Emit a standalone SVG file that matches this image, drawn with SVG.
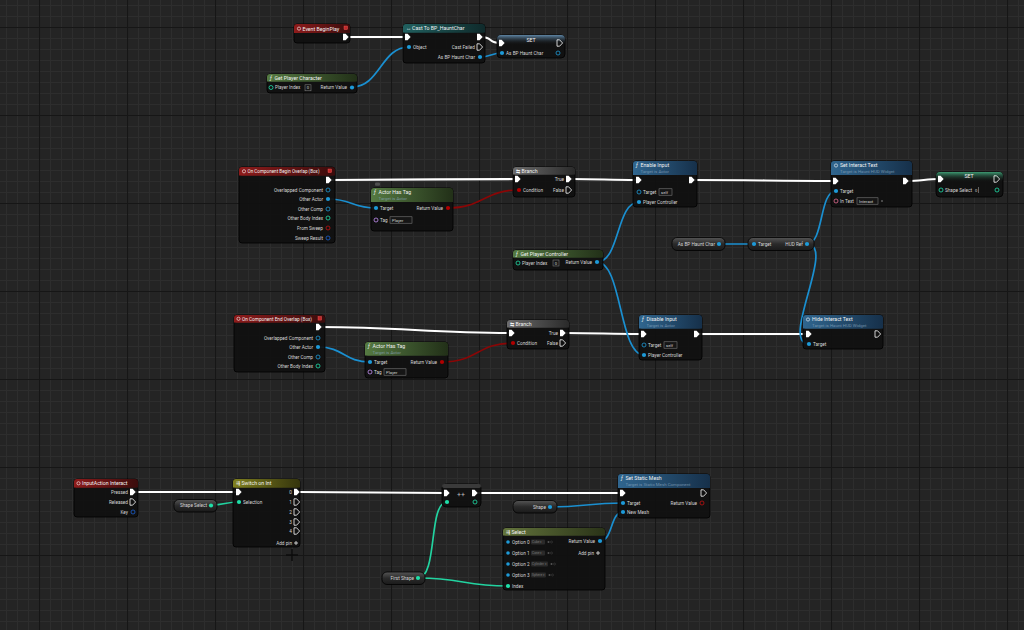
<svg xmlns="http://www.w3.org/2000/svg" width="1024" height="630" viewBox="0 0 1024 630">
<defs>
<pattern id="gMinor" width="11" height="11" patternUnits="userSpaceOnUse" x="303" y="555"><path d="M0.5 0V11M0 0.5H11" stroke="#2d2d2d" stroke-width="1" fill="none"/></pattern>
<pattern id="gMajor" width="88" height="88" patternUnits="userSpaceOnUse" x="303" y="555"><path d="M0.5 0V88M0 0.5H88" stroke="#161616" stroke-width="1.2" fill="none"/></pattern>
<linearGradient id="gRed" x1="0" y1="0" x2="1" y2="0"><stop offset="0" stop-color="#8e1b1b"/><stop offset="1" stop-color="#3a0c0c"/></linearGradient>
<linearGradient id="gTeal" x1="0" y1="0" x2="1" y2="0"><stop offset="0" stop-color="#21605f"/><stop offset="1" stop-color="#0f2a2b"/></linearGradient>
<linearGradient id="gBlue" x1="0" y1="0" x2="1" y2="0"><stop offset="0" stop-color="#30668f"/><stop offset="1" stop-color="#16304a"/></linearGradient>
<linearGradient id="gGreen" x1="0" y1="0" x2="1" y2="0"><stop offset="0" stop-color="#557a42"/><stop offset="1" stop-color="#223018"/></linearGradient>
<linearGradient id="gGrey" x1="0" y1="0" x2="1" y2="0"><stop offset="0" stop-color="#6c6c6c"/><stop offset="1" stop-color="#2a2a2a"/></linearGradient>
<linearGradient id="gOlive" x1="0" y1="0" x2="1" y2="0"><stop offset="0" stop-color="#80801f"/><stop offset="1" stop-color="#34340d"/></linearGradient>
<linearGradient id="gSel" x1="0" y1="0" x2="1" y2="0"><stop offset="0" stop-color="#63743c"/><stop offset="1" stop-color="#2a3318"/></linearGradient>
<linearGradient id="gSetB" x1="0" y1="0" x2="0" y2="1"><stop offset="0" stop-color="#5f86a6"/><stop offset="1" stop-color="#141414" stop-opacity="0"/></linearGradient>
<linearGradient id="gSetG" x1="0" y1="0" x2="0" y2="1"><stop offset="0" stop-color="#3d9a72"/><stop offset="1" stop-color="#141414" stop-opacity="0"/></linearGradient>
<linearGradient id="gVar" x1="0" y1="0" x2="0" y2="1"><stop offset="0" stop-color="#555"/><stop offset="0.5" stop-color="#2a2a2a"/><stop offset="1" stop-color="#1a1a1a"/></linearGradient>
<path id="ex" d="M-3,-3.2h2.6l3,3.2l-3,3.2h-2.6z" fill="#fff"/>
<path id="exo" d="M-3,-3.2h2.6l3,3.2l-3,3.2h-2.6z" fill="none" stroke="#fff" stroke-width="0.8"/>
</defs>
<style>
.body{fill:#101010;fill-opacity:.93;stroke:#000;stroke-width:.8}
.vb{fill:url(#gVar);stroke:#000;stroke-width:.8}
.tt{font-family:Roboto,"Liberation Sans",sans-serif;font-size:5.2px;fill:#f2f2f2}
.pl{font-family:Roboto,"Liberation Sans",sans-serif;font-size:4.7px;fill:#d6d6d6}
.sb{font-family:Roboto,"Liberation Sans",sans-serif;font-size:4.4px;fill:#8fa9c0;fill-opacity:.75}
.bx{font-family:Roboto,"Liberation Sans",sans-serif;font-size:4.2px;fill:#cfcfcf}
.r{text-anchor:end}.m{text-anchor:middle}
.box{fill:#161616;stroke:#8a8a8a;stroke-width:.5}
.po{fill:#1d9ad8}.poo{fill:none;stroke:#1d9ad8;stroke-width:.8}
.pb{fill:#b00000}.pbo{fill:none;stroke:#c01010;stroke-width:.8}
.pi{fill:#1fdfa8}.pio{fill:none;stroke:#1fdfa8;stroke-width:.8}
.pt{fill:none;stroke:#e46d92;stroke-width:.8}
.pn{fill:none;stroke:#c590f5;stroke-width:.8}
.ps{fill:none;stroke:#1a5fd0;stroke-width:.8}
.we{fill:none;stroke:#fff;stroke-width:2.2}
.wo{fill:none;stroke:#1a8fd0;stroke-width:1.7}
.wb{fill:none;stroke:#8a0606;stroke-width:1.7}
.wi{fill:none;stroke:#22d3a0;stroke-width:1.7}
</style>
<rect width="1024" height="630" fill="#242424"/>
<rect width="1024" height="630" fill="url(#gMinor)"/>
<rect width="1024" height="630" fill="url(#gMajor)"/>
<path d="M286 555H298M292 549V561" stroke="#0c0c0c" stroke-width="1.5"/>

<g id="connectors">
<path class="we" d="M350 37L405 37"/>
<path class="we" d="M481 37C493 37 488 43 500 43"/>
<path class="we" d="M330 180C400 180 450 179 516 179"/>
<path class="we" d="M570 179C600 179 608 180 637 180"/>
<path class="we" d="M693 180C760 180 770 181 834 181"/>
<path class="we" d="M907 181C920 181 927 179 939 179"/>
<path class="we" d="M320 327C400 327 430 333 510 333"/>
<path class="we" d="M564 333C600 333 607 334 642 334"/>
<path class="we" d="M698 334C750 334 757 334 807 334"/>
<path class="we" d="M134 492L237 492"/>
<path class="we" d="M298 492C370 492 375 493 445 493"/>
<path class="we" d="M476 493C550 493 548 493 621 493"/>
<path class="wo" d="M352 87C380 87 381 47 409 47"/>
<path class="wo" d="M480 57C491 57 491 53 502 53"/>
<path class="wo" d="M328 199C352 199 352 208 376 208"/>
<path class="wo" d="M597 262C620 262 616 202 639 202"/>
<path class="wo" d="M597 262C622 262 619 355 644 355"/>
<path class="wo" d="M719 244L754 244"/>
<path class="wo" d="M807 244C824 244 819 191 836 191"/>
<path class="wo" d="M807 244C837 244 779 344 809 344"/>
<path class="wo" d="M318 347C344 347 344 362 370 362"/>
<path class="wo" d="M550 507C586 507 587 503 623 503"/>
<path class="wo" d="M600 541C613 541 610 512 623 512"/>
<path class="wb" d="M448 208C483 208 484 190 519 190"/>
<path class="wb" d="M442 362C478 362 477 343 513 343"/>
<path class="wi" d="M211 505C225 505 225 502 239 502"/>
<path class="wi" d="M418 578C438 578 428 502 447 502"/>
<path class="wi" d="M418 578C463 578 463 586 508 586"/>
</g>

<g id="n-beginplay">
<rect class="body" x="294" y="24" width="56" height="19" rx="3"/>
<rect x="294" y="24" width="56" height="9" rx="3" fill="url(#gRed)"/><rect x="294" y="27" width="56" height="6" fill="url(#gRed)"/>
<circle cx="299" cy="28.6" r="1.6" fill="none" stroke="#fff" stroke-width=".6"/>
<text class="tt" x="302.5" y="30.5">Event BeginPlay</text>
<rect x="344" y="26" width="3.6" height="3.6" fill="#c02828" stroke="#f06060" stroke-width=".4"/>
<use href="#ex" x="346" y="37"/>
</g>

<g id="n-cast">
<rect class="body" x="403" y="24" width="82" height="39" rx="3"/>
<rect x="403" y="24" width="82" height="8.5" rx="3" fill="url(#gTeal)"/><rect x="403" y="27" width="82" height="5.5" fill="url(#gTeal)"/>
<text class="tt" x="406" y="30">↔</text>
<text class="tt" x="412" y="30">Cast To BP_HauntChar</text>
<use href="#ex" x="408" y="37"/><use href="#ex" x="480" y="37"/>
<circle class="po" cx="409" cy="47" r="2.1"/><text class="pl" x="413" y="48.7">Object</text>
<text class="pl r" x="475" y="48.7">Cast Failed</text><use href="#exo" x="480" y="47"/>
<text class="pl r" x="475" y="58.7">As BP Haunt Char</text><circle class="po" cx="480" cy="57" r="2.1"/>
</g>

<g id="n-set-char">
<rect class="body" x="497" y="35" width="68" height="23" rx="4"/>
<rect x="497" y="35" width="68" height="10" rx="4" fill="url(#gSetB)"/>
<text class="tt m" x="531" y="41.5">SET</text>
<use href="#ex" x="502" y="43"/><use href="#exo" x="560" y="43"/>
<circle class="po" cx="502" cy="53" r="2.1"/><text class="pl" x="506" y="54.7">As BP Haunt Char</text>
<circle class="poo" cx="558" cy="53" r="2"/>
</g>

<g id="n-getplayerchar">
<rect class="body" x="267" y="74" width="90" height="19" rx="3"/>
<rect x="267" y="74" width="90" height="7.5" rx="3" fill="url(#gGreen)"/><rect x="267" y="77" width="90" height="4.5" fill="url(#gGreen)"/>
<text class="tt" x="270" y="79.8" font-style="italic">ƒ</text>
<text class="tt" x="274.5" y="79.8">Get Player Character</text>
<circle class="pio" cx="271" cy="87.5" r="2"/><text class="pl" x="275" y="89.2">Player Index</text>
<rect class="box" x="305" y="84.8" width="6" height="6"/><text class="bx m" x="308" y="89.3">0</text>
<text class="pl r" x="347" y="89.2">Return Value</text><circle class="po" cx="352" cy="87.5" r="2.1"/>
</g>

<g id="n-beginoverlap">
<rect class="body" x="239" y="167" width="96" height="76" rx="3"/>
<rect x="239" y="167" width="96" height="8.5" rx="3" fill="url(#gRed)"/><rect x="239" y="170" width="96" height="5.5" fill="url(#gRed)"/>
<circle cx="244" cy="171.3" r="1.6" fill="none" stroke="#fff" stroke-width=".6"/>
<text class="tt" x="247.5" y="173.2" textLength="72" lengthAdjust="spacingAndGlyphs">On Component Begin Overlap (Box)</text>
<rect x="328" y="169" width="3.6" height="3.6" fill="#c02828" stroke="#f06060" stroke-width=".4"/>
<use href="#ex" x="329" y="180"/>
<text class="pl r" x="323" y="191.7">Overlapped Component</text><circle class="poo" cx="328" cy="190" r="2"/>
<text class="pl r" x="323" y="200.7">Other Actor</text><circle class="po" cx="328" cy="199" r="2.1"/>
<text class="pl r" x="323" y="210.7">Other Comp</text><circle class="poo" cx="328" cy="209" r="2"/>
<text class="pl r" x="323" y="219.7">Other Body Index</text><circle class="pio" cx="328" cy="218" r="2"/>
<text class="pl r" x="323" y="229.7">From Sweep</text><circle class="pbo" cx="328" cy="228" r="2"/>
<text class="pl r" x="323" y="239.7">Sweep Result</text><circle class="ps" cx="328" cy="238" r="2"/>
</g>

<g id="n-hastag1">
<rect x="375" y="182.5" width="5" height="3.2" rx="1" fill="#505050"/>
<rect class="body" x="371" y="188" width="82" height="43" rx="3"/>
<rect x="371" y="188" width="82" height="14" rx="3" fill="url(#gGreen)"/><rect x="371" y="191" width="82" height="11" fill="url(#gGreen)"/>
<text class="tt" x="374" y="194.3" font-style="italic">ƒ</text>
<text class="tt" x="378.5" y="194.3">Actor Has Tag</text>
<text class="sb" x="378.5" y="200.3">Target is Actor</text>
<circle class="po" cx="376" cy="208" r="2.1"/><text class="pl" x="380" y="209.7">Target</text>
<text class="pl r" x="443" y="209.7">Return Value</text><circle class="pb" cx="448" cy="208" r="2.1"/>
<circle class="pn" cx="376" cy="220" r="2"/><text class="pl" x="380" y="221.7">Tag</text>
<rect class="box" x="390" y="216.8" width="22" height="6.4"/><text class="bx" x="392" y="221.5">Player</text>
</g>

<g id="n-branch1">
<rect class="body" x="513" y="167" width="62" height="30" rx="3"/>
<rect x="513" y="167" width="62" height="7.5" rx="3" fill="url(#gGrey)"/><rect x="513" y="170" width="62" height="4.5" fill="url(#gGrey)"/>
<text class="tt" x="516" y="172.8">⇆</text>
<text class="tt" x="521.5" y="172.8">Branch</text>
<use href="#ex" x="518" y="179"/>
<text class="pl r" x="564" y="180.7">True</text><use href="#ex" x="569" y="179"/>
<circle class="pb" cx="519" cy="190" r="2.1"/><text class="pl" x="523" y="191.7">Condition</text>
<text class="pl r" x="564" y="191.7">False</text><use href="#exo" x="569" y="190"/>
</g>

<g id="n-enableinput">
<rect class="body" x="633" y="161" width="64" height="46" rx="3"/>
<rect x="633" y="161" width="64" height="14" rx="3" fill="url(#gBlue)"/><rect x="633" y="164" width="64" height="11" fill="url(#gBlue)"/>
<text class="tt" x="636" y="167.3" font-style="italic">ƒ</text>
<text class="tt" x="640.5" y="167.3">Enable Input</text>
<text class="sb" x="640.5" y="173.3">Target is Actor</text>
<use href="#ex" x="639" y="180"/><use href="#ex" x="692" y="180"/>
<circle class="poo" cx="639" cy="192" r="2"/><text class="pl" x="643" y="193.7">Target</text>
<rect class="box" x="659" y="188.8" width="13" height="6.4"/><text class="bx" x="661" y="193.5">self</text>
<circle class="po" cx="639" cy="202" r="2.1"/><text class="pl" x="643" y="203.7">Player Controller</text>
</g>

<g id="n-getplayerctrl">
<rect class="body" x="513" y="250" width="90" height="20" rx="3"/>
<rect x="513" y="250" width="90" height="7.5" rx="3" fill="url(#gGreen)"/><rect x="513" y="253" width="90" height="4.5" fill="url(#gGreen)"/>
<text class="tt" x="516" y="255.8" font-style="italic">ƒ</text>
<text class="tt" x="520.5" y="255.8">Get Player Controller</text>
<circle class="pio" cx="518" cy="263" r="2"/><text class="pl" x="522" y="264.7">Player Index</text>
<rect class="box" x="553" y="260" width="6" height="6"/><text class="bx m" x="556" y="264.5">0</text>
<text class="pl r" x="592" y="264">Return Value</text><circle class="po" cx="597" cy="262" r="2.1"/>
</g>

<g id="n-var-hauntchar">
<rect class="vb" x="672" y="237.5" width="53" height="13" rx="5"/>
<text class="pl r" x="715" y="245.8">As BP Haunt Char</text><circle class="po" cx="719" cy="244" r="2.1"/>
</g>

<g id="n-hudref">
<rect class="vb" x="748" y="237.5" width="66" height="13" rx="5"/>
<circle class="po" cx="754" cy="244" r="2.1"/><text class="pl" x="758" y="245.8">Target</text>
<text class="pl r" x="803" y="245.8">HUD Ref</text><circle class="po" cx="807" cy="244" r="2.1"/>
</g>

<g id="n-setinteracttext">
<rect class="body" x="831" y="161" width="81" height="46" rx="3"/>
<rect x="831" y="161" width="81" height="14" rx="3" fill="url(#gBlue)"/><rect x="831" y="164" width="81" height="11" fill="url(#gBlue)"/>
<circle cx="836" cy="165.5" r="1.6" fill="none" stroke="#fff" stroke-width=".6"/>
<text class="tt" x="840" y="167.3">Set Interact Text</text>
<text class="sb" x="840" y="173.3">Target is Haunt HUD Widget</text>
<use href="#ex" x="836" y="181"/><use href="#ex" x="906" y="181"/>
<circle class="po" cx="836" cy="191" r="2.1"/><text class="pl" x="840" y="192.7">Target</text>
<circle class="pt" cx="836" cy="201" r="2"/><text class="pl" x="840" y="202.7">In Text</text>
<rect class="box" x="857" y="197.8" width="21" height="6.4"/><text class="bx" x="859" y="202.5">Interact</text>
<path d="M881 201h2" stroke="#ccc" stroke-width=".6"/>
</g>

<g id="n-set-shape">
<rect class="body" x="936" y="172" width="67" height="25" rx="4"/>
<rect x="936" y="172" width="67" height="10" rx="4" fill="url(#gSetG)"/>
<text class="tt m" x="969" y="178">SET</text>
<use href="#ex" x="941" y="179"/><use href="#exo" x="997" y="179"/>
<circle class="pio" cx="941" cy="190" r="2"/><text class="pl" x="945" y="191.7">Shape Select</text>
<text class="bx" x="975" y="191.6">0</text><path d="M978.5 187v6" stroke="#ddd" stroke-width=".4"/>
<circle class="pio" cx="997" cy="190" r="2"/>
</g>

<g id="n-endoverlap">
<rect class="body" x="234" y="315" width="91" height="57" rx="3"/>
<rect x="234" y="315" width="91" height="7.5" rx="3" fill="url(#gRed)"/><rect x="234" y="318" width="91" height="4.5" fill="url(#gRed)"/>
<circle cx="238.5" cy="318.8" r="1.6" fill="none" stroke="#fff" stroke-width=".6"/>
<text class="tt" x="242" y="320.7" textLength="70" lengthAdjust="spacingAndGlyphs">On Component End Overlap (Box)</text>
<rect x="318" y="316.5" width="3.6" height="3.6" fill="#c02828" stroke="#f06060" stroke-width=".4"/>
<use href="#ex" x="319" y="327"/>
<text class="pl r" x="313" y="339.7">Overlapped Component</text><circle class="poo" cx="318" cy="338" r="2"/>
<text class="pl r" x="313" y="348.7">Other Actor</text><circle class="po" cx="318" cy="347" r="2.1"/>
<text class="pl r" x="313" y="358.7">Other Comp</text><circle class="poo" cx="318" cy="357" r="2"/>
<text class="pl r" x="313" y="367.7">Other Body Index</text><circle class="pio" cx="318" cy="366" r="2"/>
</g>

<g id="n-hastag2">
<rect class="body" x="365" y="342" width="83" height="36" rx="3"/>
<rect x="365" y="342" width="83" height="13.5" rx="3" fill="url(#gGreen)"/><rect x="365" y="345" width="83" height="10.5" fill="url(#gGreen)"/>
<text class="tt" x="368" y="348.3" font-style="italic">ƒ</text>
<text class="tt" x="372.5" y="348.3">Actor Has Tag</text>
<text class="sb" x="372.5" y="354">Target is Actor</text>
<circle class="po" cx="370" cy="362" r="2.1"/><text class="pl" x="374" y="363.7">Target</text>
<text class="pl r" x="437" y="363.7">Return Value</text><circle class="pb" cx="442" cy="362" r="2.1"/>
<circle class="pn" cx="370" cy="372" r="2"/><text class="pl" x="374" y="373.7">Tag</text>
<rect class="box" x="384" y="368.8" width="22" height="6.4"/><text class="bx" x="386" y="373.5">Player</text>
</g>

<g id="n-branch2">
<rect class="body" x="507" y="320" width="62" height="29" rx="3"/>
<rect x="507" y="320" width="62" height="7.5" rx="3" fill="url(#gGrey)"/><rect x="507" y="323" width="62" height="4.5" fill="url(#gGrey)"/>
<text class="tt" x="510" y="325.8">⇆</text>
<text class="tt" x="515.5" y="325.8">Branch</text>
<use href="#ex" x="512" y="333"/>
<text class="pl r" x="558" y="334.7">True</text><use href="#ex" x="563" y="333"/>
<circle class="pb" cx="513" cy="343" r="2.1"/><text class="pl" x="517" y="344.7">Condition</text>
<text class="pl r" x="558" y="344.7">False</text><use href="#exo" x="563" y="343"/>
</g>

<g id="n-disableinput">
<rect class="body" x="639" y="315" width="63" height="45" rx="3"/>
<rect x="639" y="315" width="63" height="13.5" rx="3" fill="url(#gBlue)"/><rect x="639" y="318" width="63" height="10.5" fill="url(#gBlue)"/>
<text class="tt" x="642" y="321.3" font-style="italic">ƒ</text>
<text class="tt" x="646.5" y="321.3">Disable Input</text>
<text class="sb" x="646.5" y="327">Target is Actor</text>
<use href="#ex" x="644" y="334"/><use href="#ex" x="697" y="334"/>
<circle class="poo" cx="644" cy="345" r="2"/><text class="pl" x="648" y="346.7">Target</text>
<rect class="box" x="664" y="341.8" width="13" height="6.4"/><text class="bx" x="666" y="346.5">self</text>
<circle class="po" cx="644" cy="355" r="2.1"/><text class="pl" x="648" y="356.7">Player Controller</text>
</g>

<g id="n-hideinteracttext">
<rect class="body" x="803" y="315" width="80" height="34" rx="3"/>
<rect x="803" y="315" width="80" height="13.5" rx="3" fill="url(#gBlue)"/><rect x="803" y="318" width="80" height="10.5" fill="url(#gBlue)"/>
<circle cx="808" cy="319.5" r="1.6" fill="none" stroke="#fff" stroke-width=".6"/>
<text class="tt" x="812" y="321.3">Hide Interact Text</text>
<text class="sb" x="812" y="327">Target is Haunt HUD Widget</text>
<use href="#ex" x="809" y="334"/><use href="#exo" x="878" y="334"/>
<circle class="po" cx="809" cy="344" r="2.1"/><text class="pl" x="813" y="345.7">Target</text>
</g>

<g id="n-inputaction">
<rect class="body" x="74" y="479" width="64" height="38" rx="3"/>
<rect x="74" y="479" width="64" height="8.5" rx="3" fill="url(#gRed)"/><rect x="74" y="482" width="64" height="5.5" fill="url(#gRed)"/>
<circle cx="78.5" cy="483.3" r="1.6" fill="none" stroke="#fff" stroke-width=".6"/>
<text class="tt" x="82" y="485.3">InputAction Interact</text>
<text class="pl r" x="128" y="493.7">Pressed</text><use href="#ex" x="133" y="492"/>
<text class="pl r" x="128" y="503.7">Released</text><use href="#exo" x="133" y="502"/>
<text class="pl r" x="128" y="513.7">Key</text><circle class="ps" cx="133" cy="512" r="2"/>
</g>

<g id="n-var-shapeselect">
<rect class="vb" x="174" y="499.5" width="43" height="12.5" rx="5"/>
<text class="pl r" x="207" y="507.3">Shape Select</text><circle class="pi" cx="211" cy="505.5" r="2.1"/>
</g>

<g id="n-switchint">
<rect class="body" x="233" y="479" width="67" height="68" rx="3"/>
<rect x="233" y="479" width="67" height="8.5" rx="3" fill="url(#gOlive)"/><rect x="233" y="482" width="67" height="5.5" fill="url(#gOlive)"/>
<text class="tt" x="236" y="485.3">⇶</text>
<text class="tt" x="241.5" y="485.3">Switch on Int</text>
<use href="#ex" x="239" y="492"/>
<circle class="pi" cx="239" cy="502" r="2.1"/><text class="pl" x="243" y="503.7">Selection</text>
<text class="pl r" x="292" y="493.7">0</text><use href="#ex" x="297" y="492"/>
<text class="pl r" x="292" y="503.7">1</text><use href="#exo" x="297" y="502"/>
<text class="pl r" x="292" y="513.7">2</text><use href="#exo" x="297" y="512"/>
<text class="pl r" x="292" y="523.7">3</text><use href="#exo" x="297" y="522"/>
<text class="pl r" x="292" y="532.7">4</text><use href="#exo" x="297" y="531"/>
<text class="pl r" x="292" y="544.7">Add pin</text><path d="M294 543h4M296 541v4" stroke="#eee" stroke-width=".8"/>
</g>

<g id="n-increment">
<rect class="body" x="442" y="484" width="39" height="23" rx="4"/>
<rect x="442" y="484" width="39" height="4" rx="2" fill="#3a3a3a"/>
<use href="#ex" x="447" y="493"/><use href="#ex" x="475" y="493"/>
<text class="tt m" x="461" y="496.5" style="font-size:7px;fill:#bbb">++</text>
<circle class="pi" cx="447" cy="502" r="2.1"/><circle class="pio" cx="475" cy="502" r="2"/>
</g>

<g id="n-setstaticmesh">
<rect class="body" x="618" y="474" width="92" height="44" rx="3"/>
<rect x="618" y="474" width="92" height="14" rx="3" fill="url(#gBlue)"/><rect x="618" y="477" width="92" height="11" fill="url(#gBlue)"/>
<text class="tt" x="621" y="480.3" font-style="italic">ƒ</text>
<text class="tt" x="625.5" y="480.3">Set Static Mesh</text>
<text class="sb" x="625.5" y="486.3">Target is Static Mesh Component</text>
<use href="#ex" x="623" y="493"/><use href="#exo" x="704" y="493"/>
<circle class="po" cx="623" cy="503" r="2.1"/><text class="pl" x="627" y="504.7">Target</text>
<text class="pl r" x="697" y="504.7">Return Value</text><circle class="pbo" cx="702" cy="503" r="2"/>
<circle class="po" cx="623" cy="512" r="2.1"/><text class="pl" x="627" y="513.7">New Mesh</text>
</g>

<g id="n-var-shape">
<rect class="vb" x="513" y="500.5" width="44" height="12.5" rx="5"/>
<text class="pl r" x="546" y="508.6">Shape</text><circle class="po" cx="550" cy="507" r="2.1"/>
</g>

<g id="n-select">
<rect class="body" x="503" y="528" width="102" height="62" rx="3"/>
<rect x="503" y="528" width="102" height="7.5" rx="3" fill="url(#gSel)"/><rect x="503" y="531" width="102" height="4.5" fill="url(#gSel)"/>
<text class="tt" x="506" y="533.8">⇶</text>
<text class="tt" x="511.5" y="533.8">Select</text>
<text class="pl r" x="595" y="542.7">Return Value</text><circle class="po" cx="600" cy="541" r="2.1"/>
<text class="pl r" x="594" y="554.7">Add pin</text><path d="M596 553h4M598 551v4" stroke="#eee" stroke-width=".8"/>
<circle class="po" cx="508" cy="542" r="1.8"/><text class="pl" x="512" y="543.7">Option 0</text>
<rect x="531" y="539.5" width="14" height="5" rx="1" fill="#2a2a2a"/><text class="bx" x="532" y="543.3" style="font-size:3.3px;fill:#777">Cube ▾</text>
<circle cx="548.5" cy="542" r="1" fill="#555"/><circle cx="551.5" cy="542" r="1" fill="none" stroke="#555" stroke-width=".4"/>
<circle class="po" cx="508" cy="553" r="1.8"/><text class="pl" x="512" y="554.7">Option 1</text>
<rect x="531" y="550.5" width="14" height="5" rx="1" fill="#2a2a2a"/><text class="bx" x="532" y="554.3" style="font-size:3.3px;fill:#777">Cone ▾</text>
<circle cx="548.5" cy="553" r="1" fill="#555"/><circle cx="551.5" cy="553" r="1" fill="none" stroke="#555" stroke-width=".4"/>
<circle class="po" cx="508" cy="564" r="1.8"/><text class="pl" x="512" y="565.7">Option 2</text>
<rect x="531" y="561.5" width="17" height="5" rx="1" fill="#2a2a2a"/><text class="bx" x="532" y="565.3" style="font-size:3.3px;fill:#777">Cylinder ▾</text>
<circle cx="551.5" cy="564" r="1" fill="#555"/><circle cx="554.5" cy="564" r="1" fill="none" stroke="#555" stroke-width=".4"/>
<circle class="po" cx="508" cy="575" r="1.8"/><text class="pl" x="512" y="576.7">Option 3</text>
<rect x="531" y="572.5" width="15" height="5" rx="1" fill="#2a2a2a"/><text class="bx" x="532" y="576.3" style="font-size:3.3px;fill:#777">Sphere ▾</text>
<circle cx="549.5" cy="575" r="1" fill="#555"/><circle cx="552.5" cy="575" r="1" fill="none" stroke="#555" stroke-width=".4"/>
<circle class="pi" cx="508" cy="586" r="2.1"/><text class="pl" x="512" y="587.7">Index</text>
</g>

<g id="n-var-firstshape">
<rect class="vb" x="382" y="572" width="43" height="12.5" rx="5"/>
<text class="pl r" x="414" y="579.8">First Shape</text><circle class="pi" cx="418" cy="578" r="2.1"/>
</g>
</svg>
